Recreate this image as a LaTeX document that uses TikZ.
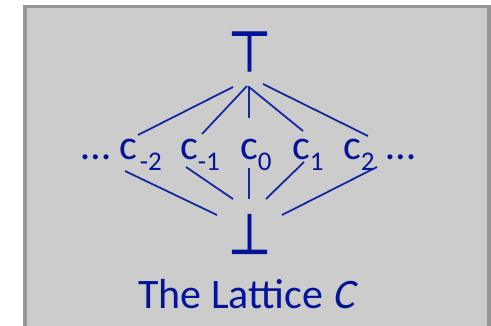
\documentclass[tikz,border=0pt]{standalone}
\usepackage{fontspec}
\setmainfont{Carlito}
\newfontfamily\slantfont{Carlito}[FakeSlant=0.2]
\newfontfamily\symfont{DejaVu Sans}[FakeBold=1.5]
\definecolor{txtblue}{RGB}{5,20,150}
\definecolor{lnblue}{RGB}{20,40,160}
\definecolor{boxfill}{RGB}{204,204,204}
\definecolor{boxline}{RGB}{150,150,150}
\newcommand\lsub[1]{\raisebox{-11pt}{\fontsize{27}{27}\selectfont #1}}
\begin{document}
\begin{tikzpicture}[x=1pt,y=-1pt,
  lbl/.style={inner sep=0pt,anchor=base west,text=txtblue,font=\fontsize{42}{42}\selectfont},
  sym/.style={inner sep=0pt,text=txtblue,xscale=0.88,font=\symfont\fontsize{56}{56}\selectfont},
  edge/.style={draw=lnblue,line width=1.8pt}]
\useasboundingbox (0,0) rectangle (491,326);
\fill[white] (0,0) rectangle (491,326);
\draw[boxline,fill=boxfill,line width=3.5pt] (25,6.5) rectangle (489,340);
% top and bottom
\node[sym] (top) at (249.5,51.5) {⊤};
\node[sym] (bot) at (249.5,234) {⊥};
% middle row
\node[lbl] (ld) at (81,160) {…};
\node[lbl] (cm2) at (119,160) {c\kern3pt\lsub{-2}};
\node[lbl] (cm1) at (180,160) {c\lsub{-1}};
\node[lbl] (c0) at (240,160) {c\lsub{0}};
\node[lbl] (c1) at (292,160) {c\lsub{1}};
\node[lbl] (c2) at (343,160) {c\lsub{2}};
\node[lbl] (rd) at (386,160) {…};
% title
\node[lbl] (title) at (138,309) {The Lattice {\slantfont C}};
% connector end points
\coordinate (ta1) at (233,87);  \coordinate (tb1) at (138,135);
\coordinate (ta2) at (247,86);  \coordinate (tb2) at (202,134);
\coordinate (ta3) at (249,86);  \coordinate (tb3) at (249,118);
\coordinate (ta4) at (249,87);  \coordinate (tb4) at (303,131);
\coordinate (ta5) at (263,84);  \coordinate (tb5) at (368,136);
\coordinate (ba1) at (125,171); \coordinate (bb1) at (217,215);
\coordinate (ba2) at (186,167); \coordinate (bb2) at (233,199);
\coordinate (ba3) at (249,168); \coordinate (bb3) at (249,199);
\coordinate (ba4) at (304,162); \coordinate (bb4) at (266,199);
\coordinate (ba5) at (377,167); \coordinate (bb5) at (282,215);
\foreach \i in {1,...,5}{
  \draw[edge] (ta\i) -- (tb\i);
  \draw[edge] (ba\i) -- (bb\i);
}
\end{tikzpicture}
\end{document}
